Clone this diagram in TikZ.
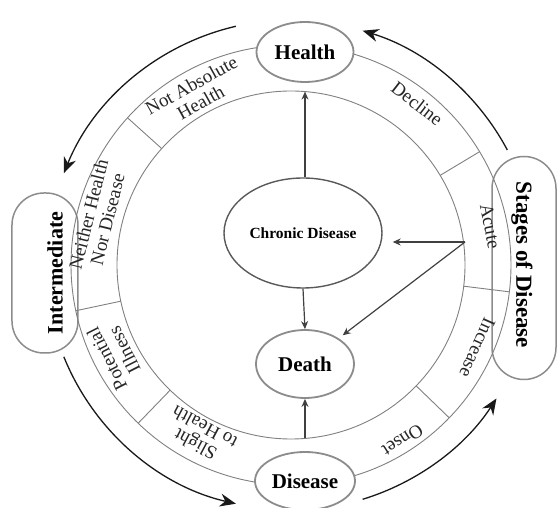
\documentclass[tikz,border=0pt]{standalone}
\usepackage{fontspec}
\setmainfont{Liberation Serif}
\usetikzlibrary{arrows.meta,shapes.geometric}
\begin{document}
\begin{tikzpicture}[x=1pt,y=1pt,
  ringline/.style={draw=black!50, line width=0.9pt},
  outarrow/.style={draw=black!90, line width=1.3pt, -{Stealth[length=16pt,width=13pt]}},
  inarrow/.style={draw=black!75, line width=1.2pt, -{Stealth[length=8pt,width=7pt]}},
  stateell/.style={ellipse, draw=black!45, line width=1.8pt, fill=white, inner sep=0pt,
     font=\bfseries\fontsize{21}{23}\selectfont},
  sidebox/.style={rectangle, draw=black!45, line width=1.5pt, rounded corners=32pt,
     inner sep=0pt},
  sidetxt/.style={font=\bfseries\fontsize{22}{24}\selectfont, inner sep=0pt},
  ringlbl/.style={align=center, inner sep=0pt, text=black!85,
     font=\fontsize{19}{19.5}\selectfont}
]
\useasboundingbox (-291,-243) rectangle (266,265);

% side boxes (drawn under the ring)
\node[sidebox, minimum width=66pt, minimum height=160pt] (inter) at (-246,-8) {};
\node[sidetxt, rotate=90] (intertxt) at (-236,-8) {Intermediate};
\node[sidebox, minimum width=64pt, minimum height=223pt] (stages) at (233,-3) {};
\node[sidetxt, rotate=-90, font=\bfseries\fontsize{23}{25}\selectfont] (stagestxt) at (231,0) {Stages of Disease};

% ring
\draw[ringline] (0,0) circle[radius=220];
\draw[ringline] (0,0) circle[radius=174];
\foreach \a in {138,31,-7,-44,226,192}{
  \draw[ringline] (\a:174) -- (\a:220);
}

% ring labels
\node[ringlbl, rotate=29] (lnah) at (119:196) {Not Absolute\\Health};
\node[ringlbl, rotate=-38] (ldec) at (52:205) {Decline};
\node[ringlbl, rotate=-79] (lacu) at (11:203) {Acute};
\node[ringlbl, rotate=-114] (linc) at (-24:204) {Increase};
\node[ringlbl, rotate=-147.5] (lons) at (-57.5:208) {Onset};
\node[ringlbl, rotate=152] (lsli) at (242:194) {Slight\\to Health};
\node[ringlbl, rotate=117] (lpot) at (207:197) {Potential\\Illness};
\node[ringlbl, rotate=76] (lnei) at (166:199) {Neither Health\\Nor Disease};

% state ellipses
\node[stateell, minimum width=97pt, minimum height=60pt] (health) at (14,213) {Health};
\node[stateell, minimum width=100pt, minimum height=58pt] (disease) at (14,-216) {Disease};
\node[stateell, minimum width=98pt, minimum height=68pt] (death) at (14,-99) {Death};
\node[ellipse, draw=black!65, line width=1.4pt, inner sep=0pt, minimum width=158pt,
  minimum height=110pt, font=\bfseries\fontsize{15.5}{17}\selectfont] (chronic) at (12,32) {Chronic Disease};

% inner arrows
\coordinate (itop) at (14,173.4);
\coordinate (ibot) at (14,-173.4);
\coordinate (R) at (174,23);
\draw[inarrow] (itop |- chronic.north) -- (itop);
\draw[inarrow] (chronic.south) -- (death.north);
\draw[inarrow] (ibot) -- (death.south);
\draw[inarrow, shorten >=10pt] (R) -- (R -| chronic.east);
\draw[inarrow, shorten >=5pt] (R) -- (death);

% outer cycle arrows
\coordinate (a1) at (28:245);
\coordinate (a2) at (103:245);
\coordinate (a3) at (202:245);
\coordinate (a4) at (287:245);
\draw[outarrow] (a1) arc[start angle=28, end angle=73, radius=245];
\draw[outarrow] (a2) arc[start angle=103, end angle=158, radius=245];
\draw[outarrow] (a3) arc[start angle=202, end angle=257, radius=245];
\draw[outarrow] (a4) arc[start angle=287, end angle=327, radius=245];
\end{tikzpicture}
\end{document}
